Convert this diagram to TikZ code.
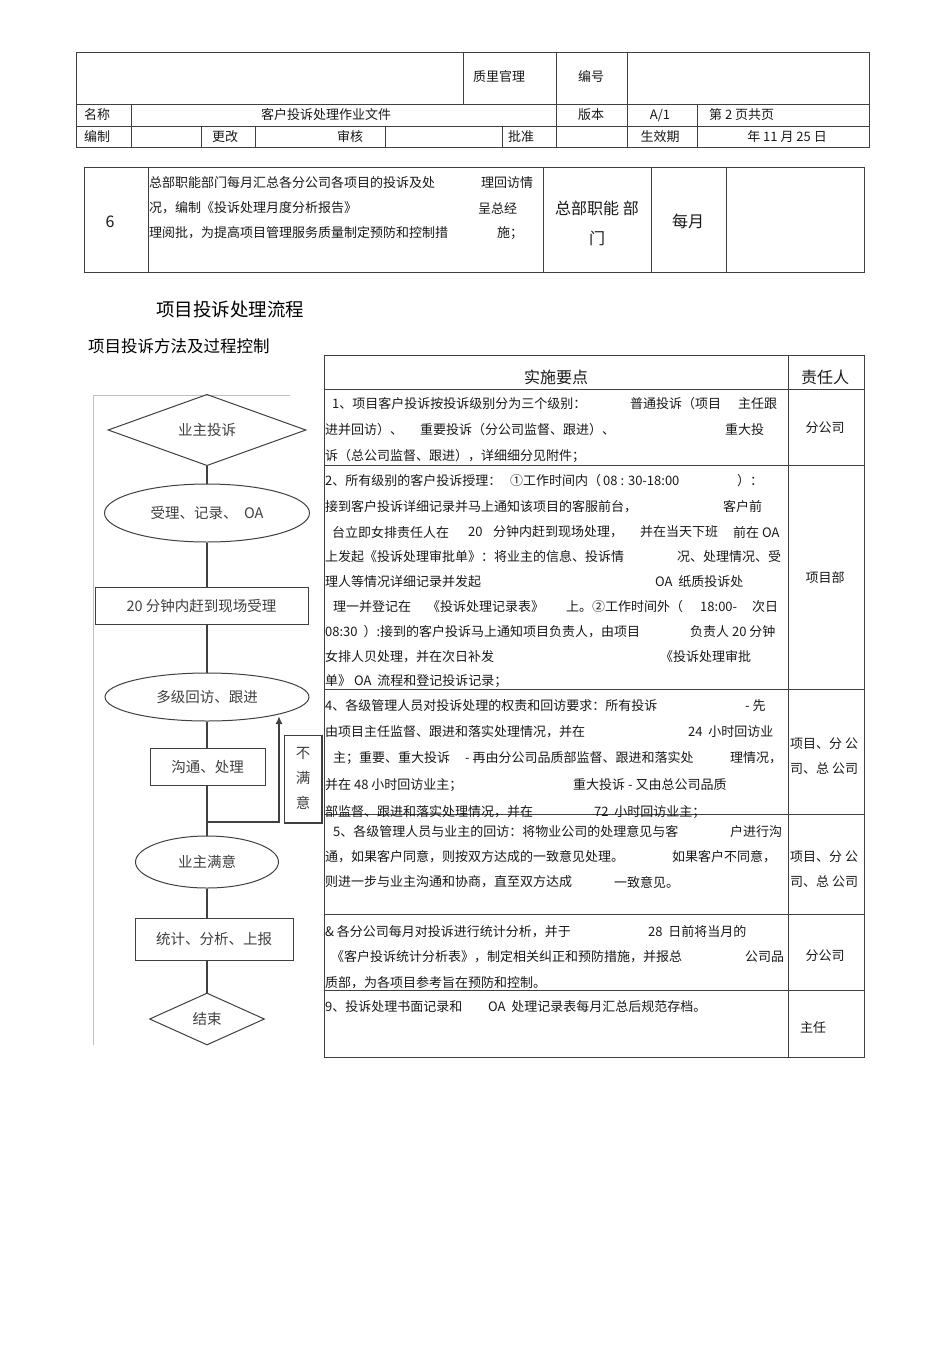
\documentclass[tikz,border=0pt]{standalone}
\usepackage{fontspec}
\setmainfont{Noto Sans CJK SC}
\usetikzlibrary{shapes.geometric,arrows.meta}
\tikzset{
  tbl/.style={draw=black!75, line width=0.8pt},
  tt/.style={inner sep=0pt, font=\fontsize{13pt}{15pt}\selectfont, text=black!90},
  big/.style={inner sep=0pt, font=\fontsize{16pt}{18pt}\selectfont, text=black!90},
  fl/.style={draw=black!75, line width=1pt, inner sep=0pt, text=black!75, font=\fontsize{14.5pt}{16pt}\selectfont},
  fline/.style={draw=black!75, line width=1.1pt},
}
\newcommand\mytxt[3]{\node[tt,anchor=west] at (#1,#2) {#3};}
\newcommand\mytc[3]{\node[tt] at (#1,#2) {#3};}
\begin{document}
\begin{tikzpicture}[x=1pt,y=-1pt]
\useasboundingbox[fill=white] (0,0) rectangle (950,1345);

% ---------- header table ----------
\draw[tbl] (76,52) rectangle (869,147);
\draw[tbl] (76,104) -- (869,104);
\draw[tbl] (76,126) -- (869,126);
\draw[tbl] (463,52) -- (463,104);
\draw[tbl] (556,52) -- (556,147);
\draw[tbl] (627,52) -- (627,147);
\draw[tbl] (131,104) -- (131,147);
\draw[tbl] (697,104) -- (697,147);
\draw[tbl] (201,126) -- (201,147);
\draw[tbl] (255,126) -- (255,147);
\draw[tbl] (385,126) -- (385,147);
\draw[tbl] (502,126) -- (502,147);
\mytc{499}{77}{质里官理}
\mytc{591}{77}{编号}
\mytc{97}{115}{名称}
\mytc{326}{115}{客户投诉处理作业文件}
\mytc{591}{115}{版本}
\mytc{660}{115}{A/1}
\mytxt{709}{115}{第 2 页共页}
\mytc{97}{137}{编制}
\mytc{225}{137}{更改}
\mytc{350}{137}{审核}
\mytc{521}{137}{批准}
\mytc{660}{137}{生效期}
\mytc{787}{137}{年 11 月 25 日}

% ---------- row 6 table ----------
\draw[tbl] (84,167) rectangle (864,272);
\draw[tbl] (148,167) -- (148,272);
\draw[tbl] (543,167) -- (543,272);
\draw[tbl] (651,167) -- (651,272);
\draw[tbl] (726,167) -- (726,272);
\node[big] (n6) at (110,222) {6};
\mytxt{149}{183}{总部职能部门每月汇总各分公司各项目的投诉及处}
\mytxt{481}{183}{理回访情}
\mytxt{149}{208}{况，编制《投诉处理月度分析报告》}
\mytxt{478}{208}{呈总经}
\mytxt{149}{233}{理阅批，为提高项目管理服务质量制定预防和控制措}
\mytxt{497}{233}{施；}
\node[big] (dep1) at (597,208) {总部职能\ 部};
\node[big] (dep2) at (597,238) {门};
\node[big] (mon) at (688,221) {每月};

% ---------- titles ----------
\node[inner sep=0pt, font=\fontsize{18.5pt}{20pt}\selectfont] (t1) at (230,309) {项目投诉处理流程};
\node[inner sep=0pt, anchor=west, font=\fontsize{16.5pt}{18pt}\selectfont] (t2) at (88,346) {项目投诉方法及过程控制};

% ---------- right table ----------
\draw[tbl] (324,355) rectangle (864,1057);
\draw[tbl] (788,355) -- (788,1057);
\foreach \yy in {389,465,689,814,914,990} \draw[tbl] (324,\yy) -- (864,\yy);
\node[big] (h1) at (556,377) {实施要点};
\node[big] (h2) at (825,377) {责任人};

% row 1
\mytxt{332}{404}{1、项目客户投诉按投诉级别分为三个级别：}
\mytxt{630}{404}{普通投诉（项目}
\mytxt{738}{404}{主任跟}
\mytxt{325}{430}{进并回访）、}
\mytxt{420}{430}{重要投诉（分公司监督、跟进）、}
\mytxt{725}{430}{重大投}
\mytxt{325}{456}{诉（总公司监督、跟进），详细细分见附件；}
\mytc{825}{428}{分公司}

% row 2
\mytxt{325}{481}{2、所有级别的客户投诉授理：}
\mytxt{510}{481}{①工作时间内（}
\mytxt{603}{481}{08 : 30-18:00}
\mytxt{737}{481}{）：}
\mytxt{325}{507}{接到客户投诉详细记录并马上通知该项目的客服前台，}
\mytxt{723}{507}{客户前}
\mytxt{332}{532}{台立即女排责任人在}
\mytxt{468}{532}{20}
\mytxt{493}{532}{分钟内赶到现场处理，}
\mytxt{640}{532}{并在当天下班}
\mytxt{733}{532}{前在 OA}
\mytxt{325}{557}{上发起《投诉处理审批单》：将业主的信息、投诉情}
\mytxt{677}{557}{况、处理情况、受}
\mytxt{325}{582}{理人等情况详细记录并发起}
\mytxt{655}{582}{OA\ \ 纸质投诉处}
\mytxt{333}{607}{理一并登记在}
\mytxt{427}{607}{《投诉处理记录表》}
\mytxt{566}{607}{上。②工作时间外（}
\mytxt{700}{607}{18:00-}
\mytxt{752}{607}{次日}
\mytxt{325}{632}{08:30\ \ ）:接到的客户投诉马上通知项目负责人，由项目}
\mytxt{690}{632}{负责人 20 分钟}
\mytxt{325}{657}{女排人贝处理，并在次日补发}
\mytxt{660}{657}{《投诉处理审批}
\mytxt{325}{681}{单》 OA\ \ 流程和登记投诉记录；}
\mytc{825}{578}{项目部}

% row 3
\mytxt{325}{706}{4、各级管理人员对投诉处理的权责和回访要求：所有投诉}
\mytxt{745}{706}{- 先}
\mytxt{325}{732}{由项目主任监督、跟进和落实处理情况，并在}
\mytxt{688}{732}{24\ \ 小时回访业}
\mytxt{333}{758}{主；重要、重大投诉}
\mytxt{465}{758}{- 再由分公司品质部监督、跟进和落实处}
\mytxt{730}{758}{理情况，}
\mytxt{325}{785}{并在 48 小时回访业主；}
\mytxt{573}{785}{重大投诉 - 又由总公司品质}
\mytxt{325}{812}{部监督、跟进和落实处理情况，并在}
\mytxt{594}{812}{72\ \ 小时回访业主；}
\mytxt{790}{744}{项目、分 公}
\mytxt{790}{769}{司、总 公司}

% row 4
\mytxt{333}{832}{5、各级管理人员与业主的回访：将物业公司的处理意见与客}
\mytxt{730}{832}{户进行沟}
\mytxt{325}{857}{通，如果客户同意，则按双方达成的一致意见处理。}
\mytxt{672}{857}{如果客户不同意，}
\mytxt{325}{882}{则进一步与业主沟通和协商，直至双方达成}
\mytxt{614}{882}{一致意见。}
\mytxt{790}{857}{项目、分 公}
\mytxt{790}{882}{司、总 公司}

% row 5
\mytxt{325}{932}{\& 各分公司每月对投诉进行统计分析，并于}
\mytxt{648}{932}{28\ \ 日前将当月的}
\mytxt{331}{957}{《客户投诉统计分析表》，制定相关纠正和预防措施，并报总}
\mytxt{745}{957}{公司品}
\mytxt{325}{983}{质部，为各项目参考旨在预防和控制。}
\mytc{825}{956}{分公司}

% row 6
\mytxt{325}{1007}{9、投诉处理书面记录和}
\mytxt{488}{1007}{OA\ \ 处理记录表每月汇总后规范存档。}
\mytc{813}{1028}{主任}

% ---------- flowchart ----------
\draw[black!25, line width=0.8pt] (290,395) -- (93,395) -- (93,1045);

\node[fl, diamond, minimum width=198pt, minimum height=66pt] (d1) at (207,430) {业主投诉};
\node[fl, ellipse, minimum width=205pt, minimum height=58pt] (e1) at (207,513) {受理、记录、\ \ OA};
\node[fl, rectangle, minimum width=213pt, minimum height=37pt] (r1) at (201.5,606) {20 分钟内赶到现场受理};
\node[fl, ellipse, minimum width=204pt, minimum height=48pt] (e2) at (207,697) {多级回访、跟进};
\node[fl, rectangle, minimum width=115pt, minimum height=37pt] (r2) at (207.5,766.5) {沟通、处理};
\node[fl, ellipse, minimum width=143pt, minimum height=52pt] (e3) at (207,862) {业主满意};
\node[fl, rectangle, minimum width=158pt, minimum height=42pt] (r3) at (214,939) {统计、分析、上报};
\node[fl, diamond, minimum width=115pt, minimum height=52pt] (d2) at (207,1019) {结束};
\node[fl, rectangle, minimum width=37pt, minimum height=87pt, align=center, font=\fontsize{14.5pt}{25pt}\selectfont] (bm) at (303,778.5) {不\\满\\意};
\draw[black!75, line width=2pt] (bm.north east) -- (bm.south east) -- (bm.south west);

\coordinate (j) at (207,822);
\coordinate (jr) at (279,822);
\coordinate (jt) at (279,716);

\draw[fline] (d1.south) -- (e1.north);
\draw[fline] (e1.south) -- (r1.north -| e1.south);
\draw[fline] (r1.south -| e2.north) -- (e2.north);
\draw[fline] (e2.south) -- (r2.north -| e2.south);
\draw[fline] (r2.south -| j) -- (j) -- (e3.north);
\draw[fline, line width=1.6pt, -{Latex[length=8pt,width=7pt]}] (j) -- (jr) -- (jt);
\draw[fline] (e3.south) -- (r3.north -| e3.south);
\draw[fline, line width=1.6pt] (r3.south -| d2.north) -- (d2.north);

\end{tikzpicture}
\end{document}
